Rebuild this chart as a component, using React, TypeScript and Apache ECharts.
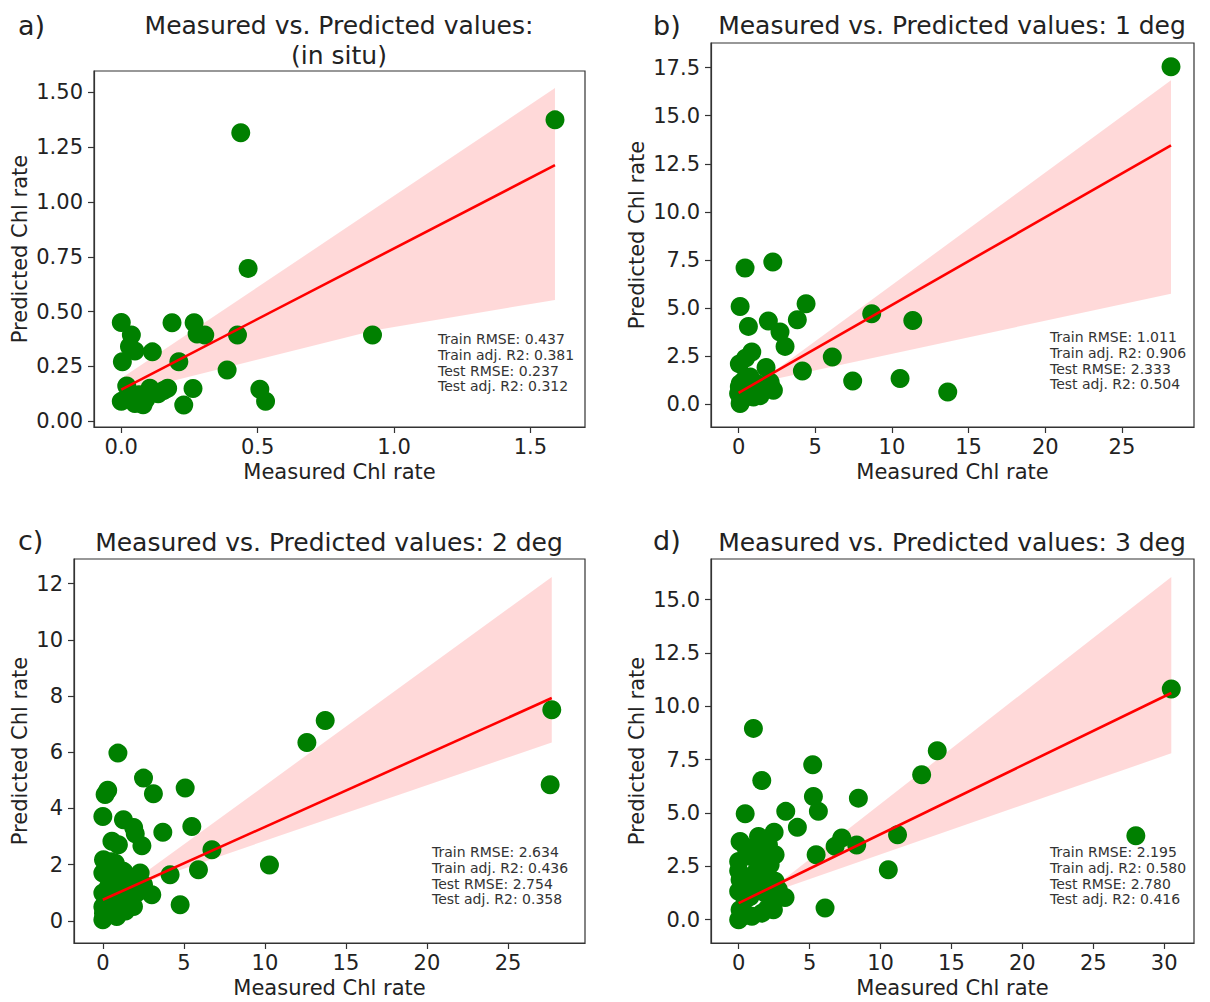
import React, { useEffect, useRef } from "react";
import * as echarts from "echarts";

// ---------- Data ----------
const panelLetters = ["a)", "b)", "c)", "d)"];
const panelTitles = [
  "Measured vs. Predicted values:\n(in situ)",
  "Measured vs. Predicted values: 1 deg",
  "Measured vs. Predicted values: 2 deg",
  "Measured vs. Predicted values: 3 deg",
];
const xAxisName = "Measured Chl rate";
const yAxisName = "Predicted Chl rate";

const pointsA: number[][] = [
  [0.0, 0.45], [0.037, 0.393], [0.03, 0.34], [0.05, 0.32], [0.004, 0.271], [0.114, 0.316],
  [0.186, 0.449], [0.267, 0.449], [0.278, 0.397], [0.306, 0.393], [0.211, 0.271], [0.426, 0.393],
  [0.388, 0.233], [0.438, 1.316], [0.465, 0.697], [0.921, 0.393], [1.59, 1.375], [0.508, 0.145],
  [0.529, 0.091], [0.263, 0.149], [0.229, 0.073], [0.0, 0.09], [0.02, 0.16], [0.05, 0.08],
  [0.08, 0.075], [0.105, 0.15], [0.135, 0.125], [0.17, 0.15], [0.065, 0.12], [0.035, 0.11],
  [0.09, 0.1], [0.155, 0.14],
];
const pointsB: number[][] = [
  [28.2, 17.55], [0.42, 7.08], [2.23, 7.4], [0.1, 5.08], [4.4, 5.23], [3.83, 4.4],
  [1.94, 4.33], [0.64, 4.05], [2.7, 3.76], [3.03, 3.01], [8.68, 4.71], [11.36, 4.36],
  [6.11, 2.46], [4.16, 1.73], [7.44, 1.21], [10.53, 1.34], [13.64, 0.64], [1.79, 1.91],
  [0.05, 2.1], [0.45, 2.4], [0.86, 2.72],
  [0.1, 1.07], [0.1, 0.04], [0.75, 1.42], [1.19, 1.07], [1.62, 0.73], [2.27, 0.73],
  [2.05, 1.16], [0.0, 0.56], [0.31, 0.3], [0.97, 0.38], [0.5, 0.8], [0.25, 0.65],
  [1.4, 0.45], [0.6, 1.1], [0.15, 0.25], [2.1, 0.95], [1.0, 0.7], [0.35, 1.25], [0.05, 0.9],
];
const pointsC: number[][] = [
  [27.7, 7.51], [27.6, 4.84], [13.72, 7.13], [12.59, 6.35], [10.28, 1.99], [6.73, 2.53],
  [5.9, 1.82], [5.49, 3.36], [5.08, 4.73], [4.15, 1.64], [4.77, 0.57], [3.7, 3.15],
  [3.12, 4.52], [2.51, 5.08], [2.41, 2.67], [2.0, 3.1], [1.9, 3.32], [1.27, 3.6],
  [0.93, 5.97], [0.3, 4.65], [0.14, 4.5], [0.0, 3.71], [0.56, 2.83], [0.96, 2.71],
  [3.02, 0.93], [1.73, 0.57],
  [0.04, 2.17], [0.77, 2.05], [0.0, 1.7], [0.45, 1.58], [1.28, 1.76], [1.89, 1.46],
  [2.51, 1.28], [0.0, 0.99], [0.67, 0.75], [1.69, 0.75], [0.04, 0.27], [0.86, 0.15],
  [1.89, 0.51], [0.0, 0.04], [0.35, 1.22], [1.28, 1.1], [0.0, 0.5], [0.26, 0.5],
  [2.3, 1.7], [0.5, 2.1], [1.0, 1.3], [0.3, 0.9], [1.4, 0.35], [2.1, 1.0], [0.6, 0.3],
];
const pointsD: number[][] = [
  [30.5, 10.82], [28.0, 3.94], [14.0, 7.92], [12.9, 6.8], [11.2, 3.98], [10.55, 2.34],
  [8.44, 5.7], [8.32, 3.5], [7.27, 3.83], [6.8, 3.44], [6.09, 0.55], [5.46, 3.05],
  [5.22, 7.27], [5.27, 5.78], [5.62, 5.08], [3.32, 5.08], [4.14, 4.33], [1.04, 8.97],
  [1.63, 6.53], [0.46, 4.97], [2.5, 4.1], [3.27, 1.04],
  [0.1, 3.67], [1.4, 3.9], [2.1, 3.52], [2.57, 3.05], [0.0, 2.73], [0.81, 2.97],
  [1.63, 2.73], [2.22, 2.58], [0.1, 1.88], [1.16, 2.19], [1.87, 2.03], [2.57, 1.8],
  [0.0, 1.33], [0.81, 1.09], [1.87, 1.25], [2.8, 1.41], [0.1, 0.47], [0.93, 0.16],
  [1.63, 0.31], [2.45, 0.47], [0.0, 0.0], [0.46, 0.94], [0.0, 2.3], [1.2, 3.3],
  [0.5, 3.4], [2.0, 0.5], [1.3, 1.6], [0.5, 1.6], [0.4, 0.2], [2.3, 1.0],
];

// regression lines (start, end)
const lineA = [[0, 0.144], [1.59, 1.168]];
const lineB = [[0, 0.6], [28.2, 13.46]];
const lineC = [[0, 0.75], [27.7, 7.93]];
const lineD = [[0, 0.78], [30.5, 10.63]];

// confidence bands
const bandAX = [0, 0.93, 1.59];
const bandAUpper = [0.195, 0.97, 1.52];
const bandALower = [0.125, 0.415, 0.553];
const bandBX = [0, 2.3, 28.2];
const bandBUpper = [1.0, 1.7, 16.84];
const bandBLower = [0.3, 1.3, 5.75];
const bandCX = [0, 2.8, 27.7];
const bandCUpper = [1.2, 1.8, 12.24];
const bandCLower = [0.4, 1.42, 6.35];
const bandDX = [0, 3.1, 30.5];
const bandDUpper = [1.3, 1.85, 16.07];
const bandDLower = [0.5, 1.47, 7.8];

// stats text
const statsA = ["Train RMSE: 0.437", "Train adj. R2: 0.381", "Test RMSE: 0.237", "Test adj. R2: 0.312"];
const statsB = ["Train RMSE: 1.011", "Train adj. R2: 0.906", "Test RMSE: 2.333", "Test adj. R2: 0.504"];
const statsC = ["Train RMSE: 2.634", "Train adj. R2: 0.436", "Test RMSE: 2.754", "Test adj. R2: 0.358"];
const statsD = ["Train RMSE: 2.195", "Train adj. R2: 0.580", "Test RMSE: 2.780", "Test adj. R2: 0.416"];

// ticks
const xTicksA = [0, 0.5, 1.0, 1.5];
const yTicksA = [0, 0.25, 0.5, 0.75, 1.0, 1.25, 1.5];
const xTicksB = [0, 5, 10, 15, 20, 25];
const yTicksB = [0, 2.5, 5, 7.5, 10, 12.5, 15, 17.5];
const xTicksC = [0, 5, 10, 15, 20, 25];
const yTicksC = [0, 2, 4, 6, 8, 10, 12];
const xTicksD = [0, 5, 10, 15, 20, 25, 30];
const yTicksD = [0, 2.5, 5, 7.5, 10, 12.5, 15];

// ---------- Layout ----------
const FONT = "DejaVu Sans";
const TXT = "#222";

type Panel = {
  grid: { left: number; top: number; width: number; height: number };
  xRange: [number, number];
  yRange: [number, number];
  xTicks: number[];
  yTicks: number[];
  xDec: number;
  yDec: number;
  yNameGap: number;
  points: number[][];
  line: number[][];
  bandX: number[];
  bandU: number[];
  bandL: number[];
  stats: string[];
  statsPos: [number, number];
  titlePos: [number, number];
  letterPos: [number, number];
};

const panels: Panel[] = [
  {
    grid: { left: 94, top: 71, width: 491, height: 356 },
    xRange: [-0.1, 1.7], yRange: [-0.027, 1.598],
    xTicks: xTicksA, yTicks: yTicksA, xDec: 1, yDec: 2, yNameGap: 64,
    points: pointsA, line: lineA, bandX: bandAX, bandU: bandAUpper, bandL: bandALower,
    stats: statsA, statsPos: [438, 331], titlePos: [339, 10], letterPos: [18, 25],
  },
  {
    grid: { left: 711, top: 43, width: 483, height: 384 },
    xRange: [-1.8, 29.7], yRange: [-1.18, 18.78],
    xTicks: xTicksB, yTicks: yTicksB, xDec: 0, yDec: 1, yNameGap: 64,
    points: pointsB, line: lineB, bandX: bandBX, bandU: bandBUpper, bandL: bandBLower,
    stats: statsB, statsPos: [1050, 329], titlePos: [952, 10], letterPos: [653, 25],
  },
  {
    grid: { left: 74, top: 559, width: 511, height: 384 },
    xRange: [-1.78, 29.75], yRange: [-0.79, 12.88],
    xTicks: xTicksC, yTicks: yTicksC, xDec: 0, yDec: 0, yNameGap: 44,
    points: pointsC, line: lineC, bandX: bandCX, bandU: bandCUpper, bandL: bandCLower,
    stats: statsC, statsPos: [432, 844], titlePos: [329, 527], letterPos: [18, 540],
  },
  {
    grid: { left: 711, top: 559, width: 483, height: 384 },
    xRange: [-1.95, 32.1], yRange: [-1.09, 16.91],
    xTicks: xTicksD, yTicks: yTicksD, xDec: 0, yDec: 1, yNameGap: 64,
    points: pointsD, line: lineD, bandX: bandDX, bandU: bandDUpper, bandL: bandDLower,
    stats: statsD, statsPos: [1050, 844], titlePos: [952, 527], letterPos: [653, 540],
  },
];

function buildOption() {
  const grid: any[] = [];
  const xAxis: any[] = [];
  const yAxis: any[] = [];
  const series: any[] = [];
  const graphic: any[] = [];

  panels.forEach((p, i) => {
    grid.push({
      ...p.grid,
      show: true,
      borderColor: "#333",
      borderWidth: 1.2,
      backgroundColor: "transparent",
      outerBoundsMode: "none",
      containLabel: false,
    });
    xAxis.push({
      type: "value",
      gridIndex: i,
      min: p.xRange[0],
      max: p.xRange[1],
      name: xAxisName,
      nameLocation: "middle",
      nameGap: 34,
      nameTextStyle: { fontFamily: FONT, fontSize: 21, color: TXT },
      axisLine: { show: true, onZero: false, lineStyle: { color: "#333", width: 1.2 } },
      axisTick: { show: true, length: 6, inside: false, customValues: p.xTicks, lineStyle: { color: "#333", width: 1.2 } },
      axisLabel: {
        show: true,
        customValues: p.xTicks,
        margin: 9,
        fontFamily: FONT,
        fontSize: 21,
        color: TXT,
        formatter: (v: number) => v.toFixed(p.xDec),
      },
      splitLine: { show: false },
    });
    yAxis.push({
      type: "value",
      gridIndex: i,
      min: p.yRange[0],
      max: p.yRange[1],
      name: yAxisName,
      nameLocation: "middle",
      nameGap: p.yNameGap,
      nameTextStyle: { fontFamily: FONT, fontSize: 21, color: TXT },
      axisLine: { show: true, onZero: false, lineStyle: { color: "#333", width: 1.2 } },
      axisTick: { show: true, length: 6, inside: false, customValues: p.yTicks, lineStyle: { color: "#333", width: 1.2 } },
      axisLabel: {
        show: true,
        customValues: p.yTicks,
        margin: 11,
        fontFamily: FONT,
        fontSize: 21,
        color: TXT,
        formatter: (v: number) => v.toFixed(p.yDec),
      },
      splitLine: { show: false },
    });

    const bx = p.bandX, bu = p.bandU, bl = p.bandL;
    series.push({
      type: "custom",
      xAxisIndex: i,
      yAxisIndex: i,
      data: [[bx[0], bu[0]]],
      clip: true,
      z: 1,
      silent: true,
      renderItem: (params: any, api: any) => {
        const pts: number[][] = [];
        for (let k = 0; k < bx.length; k++) pts.push(api.coord([bx[k], bu[k]]));
        for (let k = bx.length - 1; k >= 0; k--) pts.push(api.coord([bx[k], bl[k]]));
        return {
          type: "polygon",
          shape: { points: pts },
          style: { fill: "rgba(255,0,0,0.15)", stroke: "none" },
        };
      },
    });
    series.push({
      type: "scatter",
      xAxisIndex: i,
      yAxisIndex: i,
      data: p.points,
      symbol: "circle",
      symbolSize: 19,
      itemStyle: { color: "#008000", opacity: 1 },
      z: 2,
      silent: true,
    });
    series.push({
      type: "line",
      xAxisIndex: i,
      yAxisIndex: i,
      data: p.line,
      symbol: "none",
      lineStyle: { color: "#ff0000", width: 2.6 },
      z: 4,
      silent: true,
    });

    graphic.push({
      type: "text",
      x: p.statsPos[0],
      y: p.statsPos[1],
      style: {
        text: p.stats.join("\n"),
        fontFamily: FONT,
        fontSize: 14,
        lineHeight: 15.8,
        fill: "#333",
        textAlign: "left",
        textVerticalAlign: "top",
      },
    });
    graphic.push({
      type: "text",
      x: p.titlePos[0],
      y: p.titlePos[1],
      style: {
        text: panelTitles[i],
        fontFamily: FONT,
        fontSize: 25,
        lineHeight: 30,
        fill: TXT,
        textAlign: "center",
        textVerticalAlign: "top",
      },
    });
    graphic.push({
      type: "text",
      x: p.letterPos[0],
      y: p.letterPos[1],
      style: {
        text: panelLetters[i],
        fontFamily: FONT,
        fontSize: 27,
        fill: TXT,
        textAlign: "left",
        textVerticalAlign: "middle",
      },
    });
  });

  return {
    animation: false,
    backgroundColor: "#ffffff",
    grid,
    xAxis,
    yAxis,
    series,
    graphic,
  };
}

export default function App() {
  const ref = useRef<HTMLDivElement>(null);
  useEffect(() => {
    document.body.style.margin = "0";
    if (!ref.current) return;
    const chart = echarts.init(ref.current, undefined, { renderer: "svg" });
    chart.setOption(buildOption() as any);
    return () => chart.dispose();
  }, []);
  return <div ref={ref} style={{ width: 1210, height: 1002 }} />;
}
